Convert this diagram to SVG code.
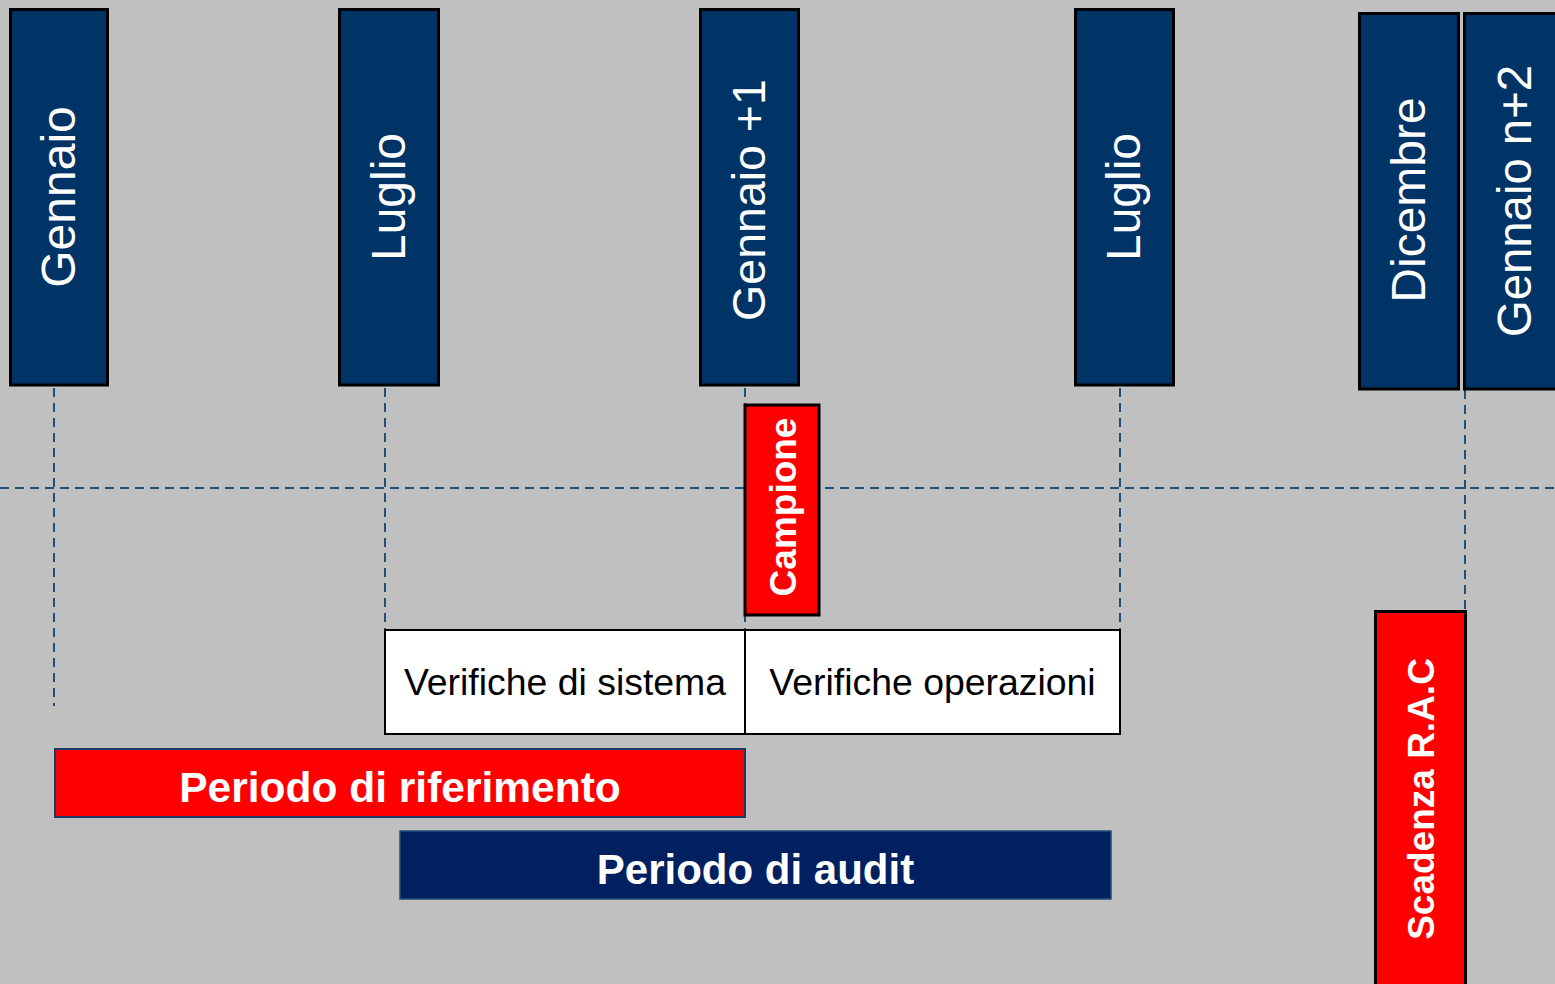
<svg xmlns="http://www.w3.org/2000/svg" width="1555" height="984" viewBox="0 0 1555 984">
<style>
.month{fill:#003366;stroke:#000;stroke-width:3}
.mtext{fill:#fff;font-family:"Liberation Sans",Arial,sans-serif;font-size:48px;text-anchor:middle}
.red{fill:#FF0000;stroke:#000;stroke-width:3}
.btext{fill:#fff;font-family:"Liberation Sans",Arial,sans-serif;font-weight:bold;text-anchor:middle}
.ver{fill:#fff;stroke:#000;stroke-width:2}
.vtext{fill:#000;font-family:"Liberation Sans",Arial,sans-serif;font-size:37.4px;text-anchor:middle}
.dash{stroke:#1F4E79;stroke-width:2;stroke-dasharray:9,6;fill:none}
</style>
<rect width="1555" height="984" fill="#C0C0C0"/>
<g id="connectors">
<line class="dash" x1="0" y1="488" x2="1555" y2="488"/>
<line class="dash" x1="54" y1="388" x2="54" y2="706"/>
<line class="dash" x1="385" y1="388" x2="385" y2="630"/>
<line class="dash" x1="745" y1="388" x2="745" y2="630"/>
<line class="dash" x1="1120" y1="388" x2="1120" y2="630"/>
<line class="dash" x1="1465" y1="390" x2="1465" y2="612"/>
</g>
<g id="m-gennaio"><rect class="month" x="10.5" y="9.5" width="97" height="375.5"/><text class="mtext" transform="translate(75,197) rotate(-90)">Gennaio</text></g>
<g id="m-luglio"><rect class="month" x="339.5" y="9.5" width="99" height="375.5"/><text class="mtext" transform="translate(405,197) rotate(-90)">Luglio</text></g>
<g id="m-gennaio1"><rect class="month" x="700.5" y="9.5" width="98" height="375.5"/><text class="mtext" style="font-size:46.5px" transform="translate(765,200) rotate(-90)">Gennaio +1</text></g>
<g id="m-luglio2"><rect class="month" x="1075.5" y="9.5" width="98" height="375.5"/><text class="mtext" transform="translate(1140,197) rotate(-90)">Luglio</text></g>
<g id="m-dicembre"><rect class="month" x="1359.5" y="13.5" width="99" height="375.5"/><text class="mtext" transform="translate(1425,200) rotate(-90)">Dicembre</text></g>
<g id="m-gennaio2"><rect class="month" x="1464.5" y="13.5" width="100" height="375.5"/><text class="mtext" style="font-size:47.3px" transform="translate(1531,201) rotate(-90)">Gennaio n+2</text></g>
<g id="campione"><rect class="red" x="745" y="405" width="74" height="210"/><text class="btext" style="font-size:37px" transform="translate(796,507) rotate(-90)">Campione</text></g>
<g id="verifiche-sistema"><rect class="ver" x="385" y="630" width="360" height="104"/><text class="vtext" x="565" y="695">Verifiche di sistema</text></g>
<g id="verifiche-operazioni"><rect class="ver" x="745" y="630" width="375" height="104"/><text class="vtext" x="932.5" y="695">Verifiche operazioni</text></g>
<g id="periodo-riferimento"><rect x="55" y="749" width="690" height="68" fill="#FF0000" stroke="#1F3864" stroke-width="2"/><text class="btext" style="font-size:42.5px" x="400" y="802">Periodo di riferimento</text></g>
<g id="periodo-audit"><rect x="400" y="831" width="711" height="68" fill="#002060" stroke="#1F4E79" stroke-width="1.5"/><text class="btext" style="font-size:42px" x="755.5" y="884">Periodo di audit</text></g>
<g id="scadenza"><rect class="red" x="1375.5" y="611.5" width="90" height="380"/><text class="btext" style="font-size:37px" transform="translate(1434,799) rotate(-90)">Scadenza R.A.C</text></g>
</svg>
